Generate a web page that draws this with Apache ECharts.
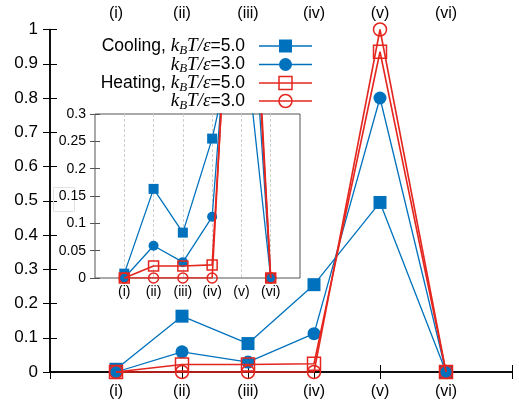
<!DOCTYPE html>
<html>
<head>
<meta charset="utf-8">
<script src="https://cdn.jsdelivr.net/npm/echarts@6/dist/echarts.min.js"></script>
<style>
  html, body { margin: 0; padding: 0; background: #fff; }
  #chart { width: 519px; height: 410px; }
</style>
</head>
<body>
<div id="chart"></div>
<script>
// Structure labels along the horizontal axis
const categories = ['(i)', '(ii)', '(iii)', '(iv)', '(v)', '(vi)'];

// Order parameter per structure
const cooling50 = [0.008, 0.163, 0.083, 0.255, 0.495, 0.0];
const cooling30 = [0.0, 0.059, 0.029, 0.112, 0.800, 0.0];
const heating50 = [0.0, 0.022, 0.022, 0.024, 0.935, 0.0];
const heating30 = [0.0, 0.0, 0.0, 0.0, 1.0, 0.0];

// Tick settings
const mainYTicks = { min: 0, max: 1, interval: 0.1 };
const insetYTicks = { min: 0, max: 0.3, interval: 0.05 };

const BLUE = '#0072bd';
const RED = '#e4261e';
const SANS = 'Liberation Sans';
const SERIF = 'Liberation Serif';

const toPoints = vals => vals.map((v, i) => [i + 1, v]);
const catLabel = v => (Number.isInteger(v) && v >= 1 && v <= categories.length) ? categories[v - 1] : '';

const seriesDefs = [
  { name: 'Cooling 5.0', data: cooling50, color: BLUE, symbol: 'rect', hollow: false, width: 1.3 },
  { name: 'Cooling 3.0', data: cooling30, color: BLUE, symbol: 'circle', hollow: false, width: 1.3 },
  { name: 'Heating 5.0', data: heating50, color: RED, symbol: 'rect', hollow: true, width: 1.6 },
  { name: 'Heating 3.0', data: heating30, color: RED, symbol: 'circle', hollow: true, width: 1.6 }
];

function makeSeries(def, axisIdx, size, clip, z) {
  return {
    name: def.name,
    type: 'line',
    xAxisIndex: axisIdx,
    yAxisIndex: axisIdx,
    data: toPoints(def.data),
    symbol: def.symbol,
    symbolSize: size,
    showAllSymbol: true,
    clip: clip,
    z: z,
    animation: false,
    lineStyle: { color: def.color, width: def.width },
    itemStyle: def.hollow
      ? { color: 'rgba(0,0,0,0)', borderColor: def.color, borderWidth: 1.5 }
      : { color: def.color, borderWidth: 0 }
  };
}

const series = [];
seriesDefs.forEach((d, i) => series.push(makeSeries(d, 0, 13, false, 2 + i)));
seriesDefs.forEach((d, i) => series.push(makeSeries(d, 2, 10, true, 20 + i)));

// Key entries: text with italic k_B T/ε and a line sample with marker
const keyRows = [
  { lead: 'Cooling, ', val: '=5.0', def: seriesDefs[0], y: 46 },
  { lead: '', val: '=3.0', def: seriesDefs[1], y: 64.5 },
  { lead: 'Heating, ', val: '=5.0', def: seriesDefs[2], y: 83 },
  { lead: '', val: '=3.0', def: seriesDefs[3], y: 101 }
];
const rich = {
  n: { fontFamily: SANS, fontSize: 17.5, color: '#000' },
  i: { fontFamily: SERIF, fontStyle: 'italic', fontSize: 19, color: '#000' },
  s: { fontFamily: SERIF, fontStyle: 'italic', fontSize: 13, color: '#000', padding: [9, 0, 0, 0] }
};
const graphics = [];
keyRows.forEach(r => {
  const txt = (r.lead ? '{n|' + r.lead + '}' : '') + '{i|k}{s|B}{i|T/ε}{n|' + r.val + '}';
  graphics.push({
    type: 'text', x: 245, y: r.y, z: 50,
    style: { text: txt, rich: rich, align: 'right', verticalAlign: 'middle' }
  });
  graphics.push({
    type: 'line', z: 50,
    shape: { x1: 259, y1: r.y, x2: 312, y2: r.y },
    style: { stroke: r.def.color, lineWidth: r.def.width }
  });
  const mStyle = r.def.hollow
    ? { fill: 'rgba(0,0,0,0)', stroke: r.def.color, lineWidth: 1.5 }
    : { fill: r.def.color };
  if (r.def.symbol === 'rect') {
    graphics.push({ type: 'rect', z: 51, shape: { x: 279, y: r.y - 6.5, width: 13, height: 13 }, style: mStyle });
  } else {
    graphics.push({ type: 'circle', z: 51, shape: { cx: 285.5, cy: r.y, r: 6.5 }, style: mStyle });
  }
});
// faint empty box at the left margin
graphics.push({
  type: 'rect', z: 1,
  shape: { x: 53.5, y: 187.5, width: 21, height: 24 },
  style: { fill: 'rgba(0,0,0,0)', stroke: '#e2e2e2', lineWidth: 1 }
});

const frameLine = { show: true, lineStyle: { color: '#000', width: 1.5 } };

const option = {
  backgroundColor: '#fff',
  animation: false,
  grid: [
    { left: 50, right: 7, top: 29.5, bottom: 38 },
    { left: 95, top: 114, width: 205, height: 164, show: true, backgroundColor: '#fff',
      borderColor: '#555', borderWidth: 1, z: 10 }
  ],
  xAxis: [
    { gridIndex: 0, type: 'value', min: 0, max: 7, interval: 1, position: 'bottom',
      axisLine: frameLine, axisTick: { show: true, inside: true, length: 7, lineStyle: { color: '#000', width: 1 } },
      axisLabel: { formatter: catLabel, fontFamily: SANS, fontSize: 16, color: '#000', margin: 12 },
      splitLine: { show: false } },
    { gridIndex: 0, type: 'value', min: 0, max: 7, interval: 1, position: 'top',
      axisLine: frameLine, axisTick: { show: true, inside: true, length: 7, lineStyle: { color: '#000', width: 1 } },
      axisLabel: { formatter: catLabel, fontFamily: SANS, fontSize: 16, color: '#000', margin: 8 },
      splitLine: { show: false } },
    { gridIndex: 1, type: 'value', min: 0, max: 7, interval: 1, position: 'bottom', z: 12,
      axisLine: { show: false }, axisTick: { show: false },
      axisLabel: { formatter: catLabel, fontFamily: SANS, fontSize: 14, color: '#000', margin: 7 },
      splitLine: { show: true, showMinLine: false, showMaxLine: false,
        lineStyle: { color: '#cfcfcf', width: 1, type: [3, 2] } } },
    { gridIndex: 1, type: 'value', min: 0, max: 7, interval: 1, position: 'top', z: 12,
      axisLine: { show: false }, axisTick: { show: false }, axisLabel: { show: false },
      splitLine: { show: false } }
  ],
  yAxis: [
    { gridIndex: 0, type: 'value', ...mainYTicks, position: 'left',
      axisLine: frameLine, axisTick: { show: true, inside: true, length: 7, lineStyle: { color: '#000', width: 1 } },
      axisLabel: { fontFamily: SANS, fontSize: 17, color: '#000', margin: 12 },
      splitLine: { show: false } },
    { gridIndex: 0, type: 'value', ...mainYTicks, position: 'right',
      axisLine: frameLine, axisTick: { show: true, inside: true, length: 7, lineStyle: { color: '#000', width: 1 } },
      axisLabel: { show: false }, splitLine: { show: false } },
    { gridIndex: 1, type: 'value', ...insetYTicks, position: 'left', z: 12,
      axisLine: { show: false }, axisTick: { show: true, inside: true, length: 5, lineStyle: { color: '#555', width: 1 } },
      axisLabel: { fontFamily: SANS, fontSize: 14, color: '#000', margin: 9 },
      splitLine: { show: false } },
    { gridIndex: 1, type: 'value', ...insetYTicks, position: 'right', z: 12,
      axisLine: { show: false }, axisTick: { show: true, inside: true, length: 5, lineStyle: { color: '#555', width: 1 } },
      axisLabel: { show: false }, splitLine: { show: false } }
  ],
  series: series,
  graphic: graphics
};

const chart = echarts.init(document.getElementById('chart'), null, { renderer: 'canvas' });
chart.setOption(option);
</script>
</body>
</html>
